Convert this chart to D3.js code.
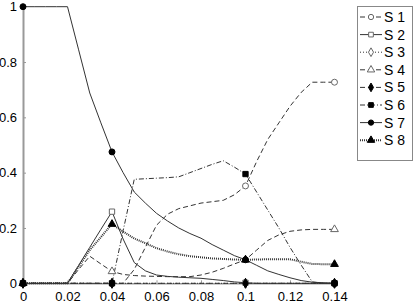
<!DOCTYPE html>
<html>
<head>
<meta charset="utf-8">
<script src="https://cdn.jsdelivr.net/npm/d3@7"></script>
<style>
  body { margin: 0; background: #fff; }
  svg { display: block; font-family: "Liberation Sans", Arial, sans-serif; }
</style>
</head>
<body>
<div id="chart"></div>
<script>
// sample positions (step 0.005)
const xs = [0, 0.005, 0.01, 0.015, 0.02, 0.025, 0.03, 0.035, 0.04, 0.045, 0.05, 0.055, 0.06, 0.065, 0.07,
  0.075, 0.08, 0.085, 0.09, 0.095, 0.1, 0.105, 0.11, 0.115, 0.12, 0.125, 0.13, 0.135, 0.14];
const markerX = [0, 0.04, 0.1, 0.14];

const seriesNames = ["S 1", "S 2", "S 3", "S 4", "S 5", "S 6", "S 7", "S 8"];

const s1 = [0, 0, 0, 0, 0, 0, 0, 0, 0, 0, 0.05, 0.13, 0.21, 0.25, 0.27,
  0.28, 0.29, 0.295, 0.30, 0.32, 0.352, 0.44, 0.52, 0.58, 0.64, 0.69, 0.727, 0.727, 0.727];
const s2 = [0, 0, 0, 0, 0, 0.065, 0.13, 0.195, 0.259, 0.16, 0.075, 0.045, 0.03, 0.025, 0.022,
  0.02, 0.018, 0.014, 0.01, 0.005, 0.002, 0, 0, 0, 0, 0, 0, 0, 0];
const s3 = [0, 0, 0, 0, 0, 0, 0, 0, 0, 0, 0, 0, 0, 0, 0,
  0, 0, 0, 0, 0, 0, 0, 0, 0, 0, 0, 0, 0, 0];
const s4 = [0, 0, 0, 0, 0, 0.05, 0.098, 0.07, 0.043, 0.032, 0.028, 0.026, 0.025, 0.024, 0.024,
  0.024, 0.03, 0.04, 0.054, 0.07, 0.085, 0.12, 0.155, 0.175, 0.188, 0.193, 0.195, 0.195, 0.195];
const s5 = [0, 0, 0, 0, 0, 0, 0, 0, 0, 0, 0, 0, 0, 0, 0,
  0, 0, 0, 0, 0, 0, 0, 0, 0, 0, 0, 0, 0, 0];
const s6 = [0, 0, 0, 0, 0, 0, 0, 0, 0, 0.19, 0.376, 0.378, 0.38, 0.382, 0.385,
  0.40, 0.415, 0.43, 0.443, 0.42, 0.395, 0.33, 0.265, 0.2, 0.13, 0.066, 0.005, 0, 0];
const s7 = [1, 1, 1, 1, 1, 0.844, 0.688, 0.58, 0.475, 0.40, 0.33, 0.29, 0.253, 0.225, 0.2,
  0.18, 0.163, 0.14, 0.12, 0.1, 0.085, 0.065, 0.045, 0.032, 0.02, 0.01, 0.004, 0.002, 0];
const s8 = [0, 0, 0, 0, 0, 0.06, 0.12, 0.167, 0.214, 0.187, 0.162, 0.145, 0.127, 0.115, 0.105,
  0.098, 0.094, 0.09, 0.088, 0.086, 0.085, 0.086, 0.087, 0.087, 0.087, 0.078, 0.07, 0.069, 0.069];

const xTicks = [0, 0.02, 0.04, 0.06, 0.08, 0.1, 0.12, 0.14];
const yTicks = [0, 0.2, 0.4, 0.6, 0.8, 1];

const allY = [s1, s2, s3, s4, s5, s6, s7, s8];

// look of each series: dash, width, marker symbol, filled
const styles = [
  { dash: "5,3", w: 1, sym: d3.symbolCircle, fill: false },
  { dash: null, w: 1, sym: d3.symbolSquare, fill: false },
  { dash: "1,2", w: 1, sym: d3.symbolDiamond, fill: false },
  { dash: "5,3", w: 1, sym: d3.symbolTriangle, fill: false },
  { dash: "5,3", w: 1, sym: d3.symbolDiamond, fill: true },
  { dash: "5,2,1,2", w: 1, sym: d3.symbolSquare, fill: true },
  { dash: null, w: 1, sym: d3.symbolCircle, fill: true },
  { dash: "1,1", w: 2, sym: d3.symbolTriangle, fill: true }
];

const W = 415, H = 305;
const svg = d3.select("#chart").append("svg").attr("width", W).attr("height", H);

const x = d3.scaleLinear().domain([0, 0.14]).range([23, 334.5]);
const y = d3.scaleLinear().domain([0, 1]).range([283.3, 6.7]);

// axes
const gx = svg.append("g").attr("transform", `translate(0,${y(0)})`)
  .call(d3.axisBottom(x).tickValues(xTicks).tickSizeInner(-3).tickSizeOuter(0).tickPadding(8)
    .tickFormat(d3.format("~g")));
gx.select(".domain").attr("stroke", "#999").attr("stroke-width", 1.5);
gx.selectAll(".tick line").attr("stroke", "#999");
gx.selectAll("text").attr("font-size", 13).attr("fill", "#000").attr("font-family", "Liberation Sans, Arial, sans-serif");

const gy = svg.append("g").attr("transform", `translate(${x(0)},0)`)
  .call(d3.axisLeft(y).tickValues(yTicks).tickSizeInner(-3).tickSizeOuter(0).tickPadding(6)
    .tickFormat(d3.format("~g")));
gy.select(".domain").attr("stroke", "#999").attr("stroke-width", 2);
gy.selectAll(".tick line").attr("stroke", "#999");
gy.selectAll("text").attr("font-size", 13).attr("fill", "#000").attr("font-family", "Liberation Sans, Arial, sans-serif");

const line = d3.line().x((d, i) => x(xs[i])).y(d => y(d));

allY.forEach((vals, k) => {
  const st = styles[k];
  svg.append("path")
    .attr("d", line(vals))
    .attr("fill", "none")
    .attr("stroke", "#333")
    .attr("stroke-width", st.w)
    .attr("stroke-dasharray", st.dash);
});

// markers drawn after lines, series order so later ones sit on top
allY.forEach((vals, k) => {
  const st = styles[k];
  const sym = d3.symbol().type(st.sym).size(st.sym === d3.symbolTriangle ? 26 : 28);
  markerX.forEach(mx => {
    const i = xs.indexOf(mx);
    svg.append("path")
      .attr("d", sym())
      .attr("transform", `translate(${x(mx)},${y(vals[i])})`)
      .attr("fill", st.fill ? "#000" : "#fff")
      .attr("stroke", st.fill ? "#000" : "#666")
      .attr("stroke-width", 1);
  });
});

// legend
const lg = svg.append("g");
lg.append("rect").attr("x", 357.5).attr("y", 6.5).attr("width", 55).attr("height", 154)
  .attr("fill", "#fff").attr("stroke", "#888");
seriesNames.forEach((name, k) => {
  const st = styles[k];
  const ly = 17 + k * 17.6;
  lg.append("line").attr("x1", 360).attr("x2", 382).attr("y1", ly).attr("y2", ly)
    .attr("stroke", "#333").attr("stroke-width", st.w).attr("stroke-dasharray", st.dash);
  lg.append("path")
    .attr("d", d3.symbol().type(st.sym).size(st.sym === d3.symbolTriangle ? 24 : 22)())
    .attr("transform", `translate(371,${ly})`)
    .attr("fill", st.fill ? "#000" : "#fff")
    .attr("stroke", st.fill ? "#000" : "#666");
  lg.append("text").attr("x", 384).attr("y", ly).attr("dy", "0.36em")
    .attr("font-size", 14).text(name);
});
</script>
</body>
</html>
